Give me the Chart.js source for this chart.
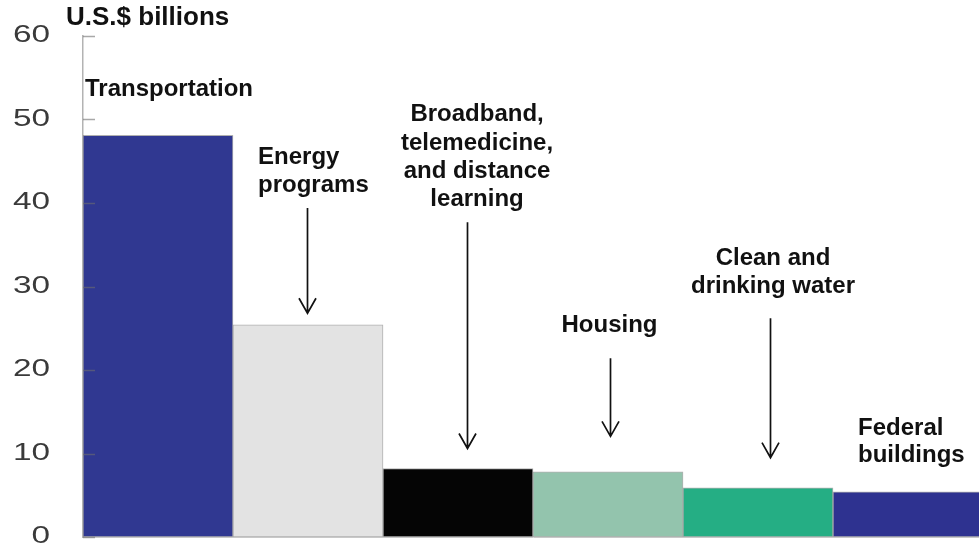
<!DOCTYPE html>
<html>
<head>
<meta charset="utf-8">
<script src="https://cdn.jsdelivr.net/npm/chart.js@4.4.1/dist/chart.umd.min.js"></script>
<style>
  html, body { margin: 0; padding: 0; background: #fff; overflow: hidden; }
  #wrap { position: relative; width: 990px; height: 548px; }
</style>
</head>
<body>
<div id="wrap"><canvas id="chart"></canvas></div>
<script>
// stimulus spending by area, U.S.$ billions
const categories = ['Transportation', 'Energy programs', 'Broadband, telemedicine, and distance learning',
  'Housing', 'Clean and drinking water', 'Federal buildings']
const funding = [48.1, 25.4, 8.2, 7.8, 5.9, 5.4]
const barColors = ['#303891', '#e3e3e3', '#050505', '#93c4ad', '#25ae84', '#2e3290']
const yTicks = [0, 10, 20, 30, 40, 50, 60]

// callout text and arrows, placed in axis units (x = category index, y = billions)
const callouts = [
  { lines: ['Transportation'], x: -0.487, y: [53.6], align: 'left' },
  { lines: ['Energy', 'programs'], x: 0.667, y: [45.5, 42.1], align: 'left', arrow: { x: 0.993, from: 39.4, to: 26.8 } },
  { lines: ['Broadband,', 'telemedicine,', 'and distance', 'learning'], x: 2.127, y: [50.6, 47.2, 43.8, 40.4], align: 'center',
    arrow: { x: 2.058, from: 37.7, to: 10.6 } },
  { lines: ['Housing'], x: 3.01, y: [25.4], align: 'center', arrow: { x: 3.013, from: 21.4, to: 12.05 } },
  { lines: ['Clean and', 'drinking water'], x: 4.1, y: [33.4, 30.0], align: 'center', arrow: { x: 4.08, from: 26.2, to: 9.5 } },
  { lines: ['Federal', 'buildings'], x: 4.667, y: [13.0, 9.8], align: 'left' }
]

const labelFont = 'bold 24px "Liberation Sans", Arial, sans-serif'

const overlay = {
  id: 'overlay',
  afterDatasetsDraw(chart) {
    const { ctx, chartArea } = chart
    const xs = chart.scales.x
    const ys = chart.scales.y

    // inner tick marks
    ctx.save()
    ctx.strokeStyle = 'rgba(110,110,110,0.6)'
    ctx.lineWidth = 1.5
    yTicks.forEach(v => {
      const py = Math.round(ys.getPixelForValue(v)) + 0.5
      ctx.beginPath()
      ctx.moveTo(chartArea.left, py)
      ctx.lineTo(chartArea.left + 12, py)
      ctx.stroke()
    })

    // wide grey tick numbers
    ctx.fillStyle = '#3a3a3a'
    ctx.font = '23px "Liberation Sans", Arial, sans-serif'
    ctx.textAlign = 'right'
    ctx.textBaseline = 'middle'
    yTicks.forEach(v => {
      const py = ys.getPixelForValue(v)
      ctx.save()
      ctx.translate(chartArea.left - 33, py)
      ctx.scale(1.45, 1)
      ctx.fillText(String(v), 0, 0)
      ctx.restore()
    })

    // unit title
    ctx.fillStyle = '#111'
    ctx.font = 'bold 26px "Liberation Sans", Arial, sans-serif'
    ctx.textAlign = 'left'
    ctx.fillText('U.S.$ billions', chartArea.left - 17, chartArea.top - 18)

    // callouts
    ctx.font = labelFont
    callouts.forEach(c => {
      ctx.textAlign = c.align
      const px = xs.getPixelForValue(c.x)
      c.lines.forEach((t, i) => ctx.fillText(t, px, ys.getPixelForValue(c.y[i])))
      if (c.arrow) {
        const ax = Math.round(xs.getPixelForValue(c.arrow.x)) + 0.5
        const y0 = ys.getPixelForValue(c.arrow.from)
        const y1 = ys.getPixelForValue(c.arrow.to)
        ctx.strokeStyle = '#111'
        ctx.lineWidth = 1.7
        ctx.beginPath()
        ctx.moveTo(ax, y0)
        ctx.lineTo(ax, y1)
        ctx.moveTo(ax - 8.5, y1 - 15)
        ctx.lineTo(ax, y1)
        ctx.lineTo(ax + 8.5, y1 - 15)
        ctx.stroke()
      }
    })
    ctx.restore()
  }
}

new Chart(document.getElementById('chart'), {
  type: 'bar',
  data: {
    labels: categories,
    datasets: [{
      data: funding,
      backgroundColor: barColors,
      borderColor: 'rgba(80,80,80,0.45)',
      borderWidth: 1,
      borderSkipped: false,
      barPercentage: 1,
      categoryPercentage: 1
    }]
  },
  options: {
    responsive: true,
    maintainAspectRatio: false,
    animation: false,
    events: [],
    layout: { padding: { top: 36, right: 7, bottom: 11, left: 0 } },
    plugins: { legend: { display: false }, tooltip: { enabled: false } },
    scales: {
      x: {
        offset: true,
        grid: { display: false },
        ticks: { display: false },
        border: { color: '#c8c8c8', width: 1 },
        afterFit: s => { s.height = 0 }
      },
      y: {
        min: 0,
        max: 60,
        ticks: { display: false, stepSize: 10 },
        grid: { display: false },
        border: { color: '#b3b3b3', width: 1.5 },
        afterFit: s => { s.width = 83 }
      }
    }
  },
  plugins: [overlay]
})
</script>
</body>
</html>
